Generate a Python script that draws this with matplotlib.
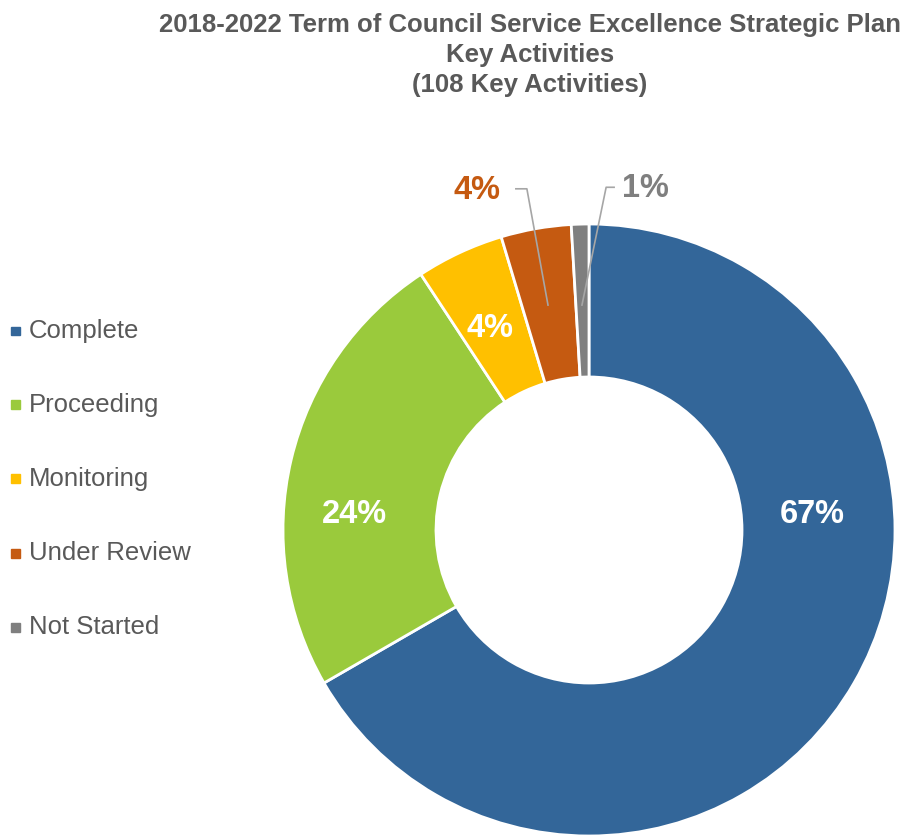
import numpy as np
import matplotlib.pyplot as plt

plt.rcParams['font.family'] = ['Liberation Sans', 'DejaVu Sans']

# Data: 108 key activities
categories = ['Complete', 'Proceeding', 'Monitoring', 'Under Review', 'Not Started']
counts = [72, 26, 5, 4, 1]
pct_labels = ['67%', '24%', '4%', '4%', '1%']
colors = ['#336699', '#9ACA3C', '#FFC000', '#C55A11', '#7F7F7F']

text_grey = '#595959'

fig = plt.figure(figsize=(9.07, 8.38), dpi=100)

# donut axes, placed so the ring sits low and to the right
cx, cy, r = 589 / 907, (838 - 530) / 838, 306
ax = fig.add_axes([cx - r / 907, cy - r / 838, 2 * r / 907, 2 * r / 838])
wedges, _ = ax.pie(counts, colors=colors, startangle=90, counterclock=False,
                   radius=1.0,
                   wedgeprops=dict(width=0.5, edgecolor='white', linewidth=2))
ax.set_xlim(-1, 1)
ax.set_ylim(-1, 1)
ax.set_aspect('equal')
ax.axis('off')

# labels inside the ring
inner_pos = [(0.729, 0.05), (-0.765, 0.05), (-0.324, 0.66)]
for (x, y), lab in zip(inner_pos, pct_labels[:3]):
    ax.text(x, y, lab, ha='center', va='center', color='white',
            fontsize=23.5, fontweight='bold')

# outside labels with leader lines
ax.text(-0.366, 1.11, pct_labels[3], ha='center', va='center',
        color=colors[3], fontsize=23.5, fontweight='bold', clip_on=False)
ax.plot([-0.239, -0.203, -0.134], [1.115, 1.115, 0.735], color='#A6A6A6',
        lw=1.2, clip_on=False)
ax.text(0.183, 1.115, pct_labels[4], ha='center', va='center',
        color=colors[4], fontsize=23.5, fontweight='bold', clip_on=False)
ax.plot([0.082, 0.056, -0.023], [1.12, 1.12, 0.735], color='#A6A6A6',
        lw=1.2, clip_on=False)

# legend on the left
legend_y = [331, 405, 479, 553, 627]
for name, col, py in zip(categories, colors, legend_y):
    fy = (838 - py) / 838
    fig.patches.append(plt.Rectangle((11 / 907, fy - 4.5 / 838), 9 / 907, 9 / 838,
                                     transform=fig.transFigure, color=col))
    fig.text(29 / 907, fy, name, ha='left', va='center', color=text_grey,
             fontsize=18.5)

fig.text(530 / 907, (838 - 55) / 838,
         '2018-2022 Term of Council Service Excellence Strategic Plan\n'
         'Key Activities\n(108 Key Activities)',
         ha='center', va='center', color=text_grey, fontsize=18.5,
         fontweight='bold', linespacing=1.34)

fig.savefig('out.png', dpi=100)
